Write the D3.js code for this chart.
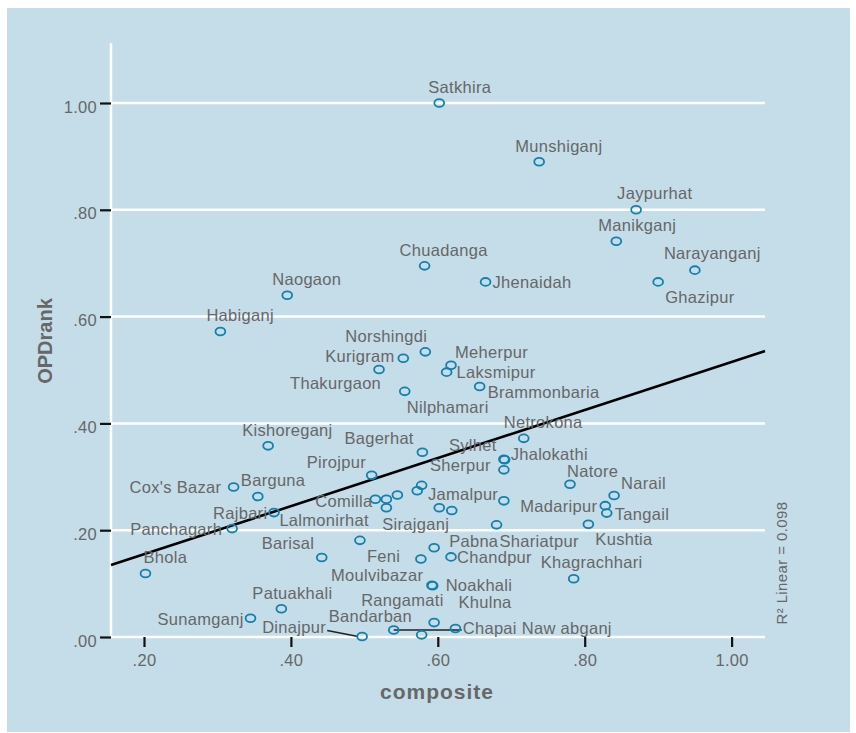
<!DOCTYPE html>
<html><head><meta charset="utf-8">
<script src="https://cdn.jsdelivr.net/npm/d3@7"></script>
<style>
html,body{margin:0;padding:0;background:#fff;}
svg{display:block;font-family:"Liberation Sans",Arial,sans-serif;}
</style></head>
<body><div id="chart"></div>
<script>
// ---------------- DATA ----------------
const districts = ["Satkhira","Munshiganj","Jaypurhat","Manikganj","Narayanganj","Ghazipur","Jhenaidah","Chuadanga","Naogaon","Habiganj",
"Norshingdi","Kurigram","Thakurgaon","Nilphamari","Meherpur","Laksmipur","Brammonbaria","Netrokona","Kishoreganj","Bagerhat",
"Sylhet","Jhalokathi","Sherpur","Pirojpur","Natore","Narail","Madaripur","Tangail","Kushtia","Shariatpur",
"Cox's Bazar","Barguna","Rajbari","Panchagarh","Bhola","Comilla","Lalmonirhat","Jamalpur","Sirajganj","Pabna",
"Chandpur","Feni","Barisal","Moulvibazar","Noakhali","Khagrachhari","Patuakhali","Sunamganj","Dinajpur","Chapai Naw abganj",
"Bandarban","Rangamati","Khulna","","","","","",""];
const composite = [0.602,0.738,0.870,0.843,0.950,0.900,0.665,0.582,0.395,0.304,
0.583,0.553,0.520,0.555,0.618,0.612,0.657,0.717,0.369,0.579,
0.690,0.691,0.690,0.510,0.780,0.840,0.828,0.830,0.805,0.680,
0.322,0.355,0.377,0.320,0.202,0.515,0.530,0.690,0.602,0.595,
0.618,0.577,0.442,0.592,0.593,0.785,0.387,0.345,0.497,0.540,
0.578,0.595,0.624,0.530,0.545,0.572,0.578,0.619,0.494];
const opdRank = [1.000,0.890,0.800,0.741,0.687,0.665,0.665,0.695,0.640,0.572,
0.534,0.522,0.501,0.460,0.509,0.496,0.469,0.372,0.358,0.346,
0.333,0.332,0.313,0.303,0.286,0.265,0.246,0.232,0.211,0.210,
0.281,0.263,0.233,0.203,0.119,0.258,0.242,0.255,0.242,0.167,
0.150,0.146,0.149,0.097,0.096,0.109,0.053,0.035,0.001,0.013,
0.004,0.027,0.016,0.258,0.266,0.274,0.284,0.237,0.181];
const xTickValues = [0.2,0.4,0.6,0.8,1.0];
const xTickLabels = [".20",".40",".60",".80","1.00"];
const yTickValues = [0,0.2,0.4,0.6,0.8,1.0];
const yTickLabels = [".00",".20",".40",".60",".80","1.00"];
const fitIntercept = 0.065;
const fitSlope = 0.450;
const rSquared = "0.098";

// label placement (pixel offsets from the point: left edge, vertical centre), leader lines
const labelLayout = {
"Satkhira":[-11,-16],"Munshiganj":[-24,-16],"Jaypurhat":[-19,-17],"Manikganj":[-18,-16],"Narayanganj":[-31,-17],
"Ghazipur":[7,15],"Jhenaidah":[7,0],"Chuadanga":[-25,-16],"Naogaon":[-15,-16],"Habiganj":[-14,-16],
"Norshingdi":[-80,-16],"Kurigram":[-78,-2],"Thakurgaon":[-89,14],"Nilphamari":[2,16],"Meherpur":[4,-13],
"Laksmipur":[10,0],"Brammonbaria":[8,6],"Netrokona":[-20,-16],"Kishoreganj":[-26,-16],"Bagerhat":[-78,-14],
"Sylhet":[-55,-14],"Jhalokathi":[6,-6],"Sherpur":[-74,-5],"Pirojpur":[-65,-13],"Natore":[-3,-13],
"Narail":[7,-12],"Madaripur":[-85,0],"Tangail":[8,1],"Kushtia":[7,15],"Shariatpur":[3,16],
"Cox's Bazar":[-104,0],"Barguna":[-17,-16],"Rajbari":[-61,0],"Panchagarh":[-102,0],"Bhola":[-2,-16],
"Comilla":[-60,2],"Lalmonirhat":[-107,12],"Jamalpur":[-76,-7],"Sirajganj":[-57,16],"Pabna":[15,-7],
"Chandpur":[6,0],"Feni":[-54,-3],"Barisal":[-60,-14],"Moulvibazar":[-101,-10],"Noakhali":[13,-1],
"Khagrachhari":[-33,-17],"Patuakhali":[-29,-16],"Sunamganj":[-93,1],"Dinajpur":[-100,-9],"Chapai Naw abganj":[69,-2],
"Bandarban":[-93,-19],"Rangamati":[-73,-23],"Khulna":[3,-26]
};
const leaders = {"Dinajpur":"right","Chapai Naw abganj":"left"};

// ---------------- CHART ----------------
const W = 856, H = 733;
const svg = d3.select("#chart").append("svg").attr("width", W).attr("height", H);
const textCol = "#676767", ptCol = "#1380ad";

svg.append("rect").attr("x",7).attr("y",8).attr("width",843).attr("height",724).attr("fill","#c4dde9");

const x = d3.scaleLinear().domain([0.2,1.0]).range([144,731.6]);
const y = d3.scaleLinear().domain([0,1]).range([637,103]);
const xMin = x.invert(111), xMax = x.invert(765);

// gridlines
svg.append("g").selectAll("line").data(yTickValues).join("line")
  .attr("x1",x(xMin)).attr("x2",x(xMax)).attr("y1",d=>y(d)).attr("y2",d=>y(d))
  .attr("stroke","#fff").attr("stroke-width",2.5);
// y axis line (white)
svg.append("line").attr("x1",x(xMin)).attr("x2",x(xMin)).attr("y1",y(1.112)).attr("y2",y(0)+1)
  .attr("stroke","#fff").attr("stroke-width",2.5);

// y ticks
const yAxis = d3.axisLeft(y).tickValues(yTickValues).tickSize(11).tickPadding(3)
  .tickFormat((d,i)=>yTickLabels[i]);
const gy = svg.append("g").attr("transform",`translate(${x(xMin)},0)`).call(yAxis);
gy.select(".domain").remove();
gy.selectAll(".tick line").attr("stroke","#111").attr("stroke-width",2.2);
gy.selectAll(".tick text").attr("fill",textCol).attr("font-size",16.5).attr("letter-spacing",0.3)
  .attr("font-family","Liberation Sans, Arial, sans-serif").attr("dy","0.55em");

// x ticks
const xAxis = d3.axisBottom(x).tickValues(xTickValues).tickSize(10).tickPadding(7)
  .tickFormat((d,i)=>xTickLabels[i]);
const gx = svg.append("g").attr("transform",`translate(0,${y(0)})`).call(xAxis);
gx.select(".domain").remove();
gx.selectAll(".tick line").attr("stroke","#111").attr("stroke-width",2.2);
gx.selectAll(".tick text").attr("fill",textCol).attr("font-size",16.5).attr("letter-spacing",0.3)
  .attr("font-family","Liberation Sans, Arial, sans-serif");

// regression line
svg.append("line")
  .attr("x1",x(xMin)).attr("y1",y(fitIntercept+fitSlope*xMin))
  .attr("x2",x(xMax)).attr("y2",y(fitIntercept+fitSlope*xMax))
  .attr("stroke","#000").attr("stroke-width",2.6);

const pts = districts.map((n,i)=>({name:n, cx:x(composite[i]), cy:y(opdRank[i])}));

// labels
const lab = svg.append("g").attr("font-size",16.5).attr("letter-spacing",0.3).attr("fill",textCol);
pts.filter(p=>p.name && labelLayout[p.name]).forEach(p=>{
  const [dx,dy] = labelLayout[p.name];
  const t = lab.append("text").attr("x",p.cx+dx).attr("y",p.cy+dy).attr("dy","0.36em").text(p.name);
  const side = leaders[p.name];
  if (side) {
    const bb = t.node().getBBox();
    if (side==="right") {
      svg.append("line").attr("x1",bb.x+bb.width+1).attr("y1",p.cy+dy+3).attr("x2",p.cx-4).attr("y2",p.cy)
        .attr("stroke","#222").attr("stroke-width",1.6);
    } else {
      svg.append("line").attr("x1",p.cx).attr("y1",p.cy).attr("x2",bb.x-1).attr("y2",p.cy)
        .attr("stroke","#222").attr("stroke-width",1.6);
    }
  }
});

// points
svg.append("g").selectAll("ellipse").data(pts).join("ellipse")
  .attr("cx",d=>d.cx).attr("cy",d=>d.cy).attr("rx",4.9).attr("ry",3.9)
  .attr("fill","none").attr("stroke",ptCol).attr("stroke-width",1.8);

// axis titles
svg.append("text").attr("x",437).attr("y",691).attr("dy","0.36em").attr("text-anchor","middle")
  .attr("font-size",21).attr("font-weight","bold").attr("letter-spacing",1).attr("fill",textCol).text("composite");
svg.append("text").attr("transform","translate(45,341) rotate(-90)").attr("dy","0.36em").attr("text-anchor","middle")
  .attr("font-size",20).attr("font-weight","bold").attr("fill",textCol).text("OPDrank");
svg.append("text").attr("transform","translate(782,563) rotate(-90)").attr("dy","0.36em").attr("text-anchor","middle")
  .attr("font-size",15).attr("letter-spacing",0.4).attr("fill",textCol).text("R\u00b2 Linear = " + rSquared);
</script></body></html>
